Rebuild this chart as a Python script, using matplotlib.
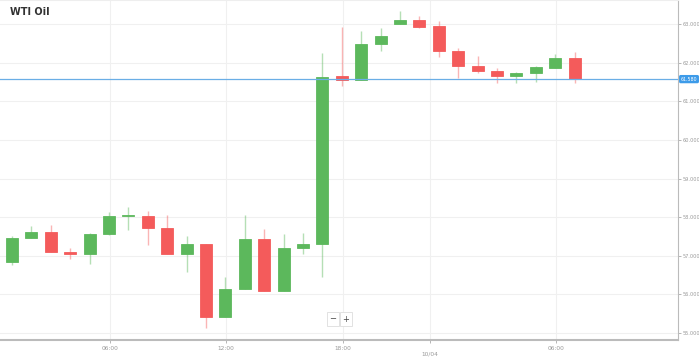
import numpy as np
import matplotlib.pyplot as plt

# hourly candles (open, high, low, close)
opens = [56.84, 57.46, 57.62, 57.10, 57.05, 57.57, 58.03, 58.03, 57.72, 57.05,
         57.31, 55.42, 56.14, 57.44, 56.09, 57.20, 57.31, 61.66, 61.56, 62.49,
         63.01, 63.11, 62.96, 62.31, 61.92, 61.79, 61.66, 61.74, 61.87, 62.13]
highs = [57.52, 57.77, 57.80, 57.20, 57.59, 58.14, 58.27, 58.16, 58.06, 57.52,
         57.31, 56.45, 58.06, 57.70, 57.57, 57.60, 62.26, 62.93, 62.83, 62.90,
         63.34, 63.22, 63.09, 62.39, 62.18, 61.87, 61.76, 61.92, 62.23, 62.28]
lows = [56.76, 57.46, 57.10, 56.92, 56.79, 57.54, 57.67, 57.27, 57.05, 56.58,
        55.13, 55.42, 56.14, 56.09, 56.09, 57.05, 56.45, 61.40, 61.56, 62.31,
        63.01, 62.90, 62.15, 61.61, 61.74, 61.48, 61.48, 61.51, 61.87, 61.48]
closes = [57.47, 57.62, 57.10, 57.05, 57.57, 58.03, 58.06, 57.72, 57.05, 57.31,
          55.42, 56.14, 57.44, 56.09, 57.20, 57.31, 61.63, 61.56, 62.49, 62.70,
          63.11, 62.93, 62.31, 61.92, 61.79, 61.66, 61.74, 61.89, 62.13, 61.58]
last_price = 61.58
last_label = "61.580"

xtick_pos = [6.05, 12.03, 18.06, 22.55, 29.04]
xtick_labels = ["06:00", "12:00", "18:00", "\n10/04", "06:00"]
yticks = [55, 56, 57, 58, 59, 60, 61, 62, 63]

green = "#5cb85c"
red = "#f45b5b"

fig = plt.figure(figsize=(6.99, 3.58), dpi=100)
ax = fig.add_axes([0, 18 / 358, 678 / 699, 1 - 18 / 358])

x = np.arange(1, len(opens) + 1)
for i in range(len(opens)):
    up = closes[i] >= opens[i]
    c = green if up else red
    ax.vlines(x[i], lows[i], highs[i], color=c, lw=1, alpha=0.45, zorder=2)
    bottom = min(opens[i], closes[i])
    h = max(abs(closes[i] - opens[i]), 0.03)
    ax.bar(x[i], h, bottom=bottom, width=0.62, color=c, edgecolor=c,
           lw=0.6, zorder=3)

ax.axhline(last_price, color="#6aaee6", lw=0.9, zorder=4)

ax.set_xlim(0.38, 35.33)
ax.set_ylim(54.82, 63.63)

ax.set_yticks(yticks)
ax.set_yticklabels(["%.3f" % v for v in yticks])
ax.yaxis.tick_right()
ax.tick_params(axis="y", labelsize=3.6, colors="#999999", length=2, pad=1,
               width=0.5)
ax.set_xticks(xtick_pos)
ax.set_xticklabels(xtick_labels)
ax.tick_params(axis="x", labelsize=4.2, colors="#999999", length=2, pad=2,
               width=0.5)

ax.grid(True, color="#f0f0f0", lw=0.8, zorder=0)
ax.set_axisbelow(True)
ax.spines["left"].set_visible(False)
ax.spines["top"].set_color("#eeeeee")
ax.spines["right"].set_color("#bbbbbb")
ax.spines["bottom"].set_color("#bbbbbb")
ax.spines["bottom"].set_linewidth(1.5)

ax.text(10 / 678, 1 - 12 / 340, "WTI Oil", transform=ax.transAxes,
        fontsize=7, fontweight="bold", color="#333333", va="center")

ax.text(1.004, last_price, last_label, transform=ax.get_yaxis_transform(),
        fontsize=3.4, color="white", va="center", ha="left",
        bbox=dict(boxstyle="round,pad=0.2", fc="#3d9be9", ec="#3d9be9"))

for xp, sym in [(333, "\u2212"), (346, "+")]:
    ax.text(xp / 678, 1 - 319 / 340, sym, transform=ax.transAxes,
            fontsize=6, color="#444444", ha="center", va="center",
            bbox=dict(boxstyle="square,pad=0.3", fc="white", ec="#dddddd",
                      lw=0.6))

fig.savefig("out.png", dpi=100)
